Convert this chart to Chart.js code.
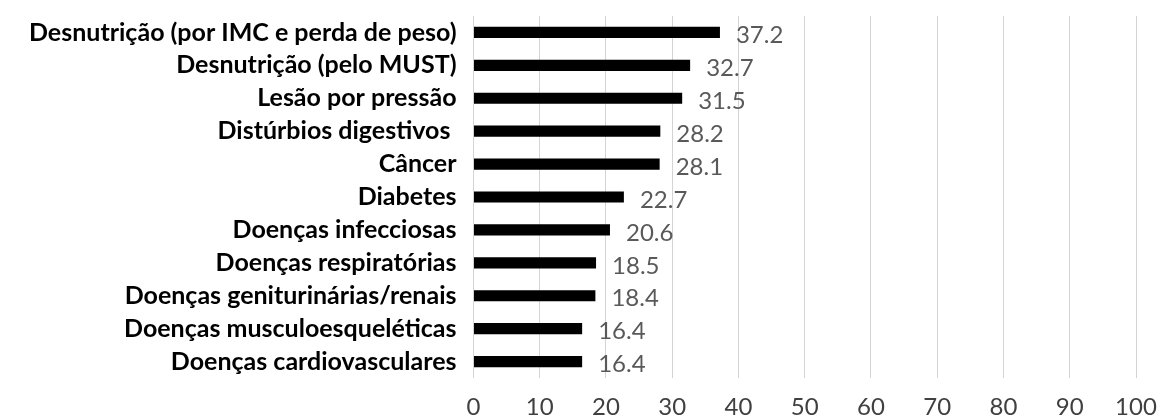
<!DOCTYPE html>
<html lang="pt">
  <head>
    <meta charset="UTF-8" />
    <title>Prevalências</title>
    <style>
      body {
        margin: 0;
        padding: 0;
        background: #fff;
        overflow: hidden;
      }
      .chart-box {
        width: 1158px;
        height: 416px;
      }
    </style>
  </head>
  <body>
    <div class="chart-box">
      <canvas id="grafico" width="1158" height="416"></canvas>
    </div>

    <script src="https://cdn.jsdelivr.net/npm/chart.js"></script>
    <script>
        const categorias = [
            'Desnutrição (por IMC e perda de peso)',
            'Desnutrição (pelo MUST)',
            'Lesão por pressão',
            'Distúrbios digestivos ',
            'Câncer',
            'Diabetes',
            'Doenças infecciosas',
            'Doenças respiratórias',
            'Doenças geniturinárias/renais',
            'Doenças musculoesqueléticas',
            'Doenças cardiovasculares'
        ];
        const valores = [37.2, 32.7, 31.5, 28.2, 28.1, 22.7, 20.6, 18.5, 18.4, 16.4, 16.4];
        const ticksX = [0, 10, 20, 30, 40, 50, 60, 70, 80, 90, 100];

        // rótulos de valor à direita das barras
        const rotulos = {
            id: 'rotulos',
            afterDatasetsDraw(chart) {
                const ctx = chart.ctx;
                const meta = chart.getDatasetMeta(0);
                ctx.save();
                ctx.font = '24px Lato';
                ctx.fillStyle = '#595959';
                ctx.textAlign = 'left';
                ctx.textBaseline = 'middle';
                meta.data.forEach((bar, i) => {
                    ctx.fillText(valores[i].toFixed(1), bar.x + 16, bar.y + 3);
                });
                ctx.restore();
            }
        };

        const ctx = document.getElementById('grafico').getContext('2d');
        new Chart(ctx, {
            type: 'bar',
            data: {
                labels: categorias,
                datasets: [{
                    data: valores,
                    backgroundColor: '#000000',
                    categoryPercentage: 0.34,
                    barPercentage: 1
                }]
            },
            options: {
                indexAxis: 'y',
                responsive: false,
                animation: false,
                layout: { padding: { left: 12, right: 0, top: 16, bottom: 0 } },
                plugins: {
                    legend: { display: false },
                    tooltip: { enabled: false }
                },
                scales: {
                    x: {
                        min: 0,
                        max: 100,
                        afterBuildTicks: (axis) => {
                            axis.ticks = ticksX.map(v => ({ value: v }));
                        },
                        afterFit: (axis) => {
                            axis.paddingLeft = 0;
                            axis.paddingRight = 22;
                            axis.height = 38;
                        },
                        grid: { color: '#d4d4d4', lineWidth: 1, drawTicks: false },
                        border: { display: false },
                        ticks: {
                            color: '#404040',
                            padding: 17,
                            maxRotation: 0,
                            font: { family: 'Lato', size: 24, lineHeight: 1 }
                        }
                    },
                    y: {
                        afterFit: (axis) => {
                            axis.paddingTop = 0;
                            axis.paddingBottom = 0;
                        },
                        grid: { display: false, drawTicks: false },
                        border: { display: false },
                        ticks: {
                            color: '#000000',
                            padding: 17,
                            autoSkip: false,
                            font: { family: 'Lato', size: 25, weight: 'bold' }
                        }
                    }
                }
            },
            plugins: [rotulos]
        });
    </script>
  </body>
</html>
